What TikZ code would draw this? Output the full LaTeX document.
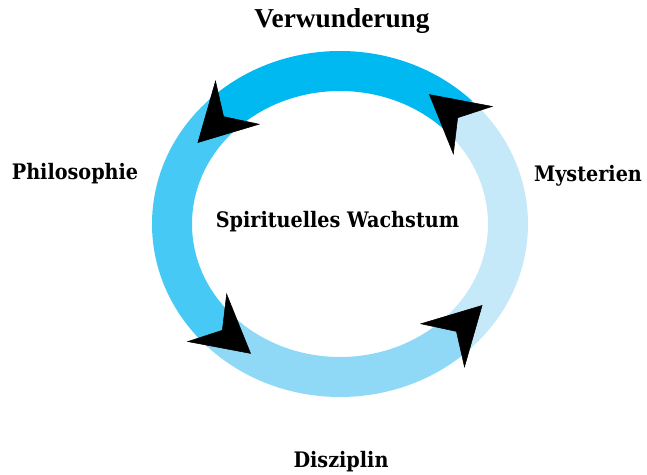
\documentclass[tikz,border=0pt]{standalone}
\usepackage{fontspec}
\setmainfont{Liberation Serif}
\newfontfamily\stagefont[FakeStretch=0.9]{DejaVu Serif}
\usetikzlibrary{arrows.meta}
\definecolor{TopBlue}{HTML}{00B9F1}
\definecolor{LeftBlue}{HTML}{47C9F5}
\definecolor{LowBlue}{HTML}{8FD9F7}
\definecolor{PaleBlue}{HTML}{C6E9F9}
\tikzset{
 ring/.style={line width=30pt},
 turn/.style={-{Stealth[length=43pt,width=47pt,inset=15pt]}, shorten <=17pt, line width=0.4pt, draw=black, fill=black},
 stage/.style={anchor=base, inner sep=0pt, font=\stagefont\bfseries\fontsize{16}{18}\selectfont},
 headline/.style={anchor=base, inner sep=0pt, font=\bfseries\fontsize{20.5}{24}\selectfont}
}
\begin{document}
\begin{tikzpicture}[x=0.75pt,y=0.75pt]
\useasboundingbox (0,0) rectangle (647,475);
\begin{scope}[shift={(340,251)}]
% the four parts of the ring
\draw[ring, draw=TopBlue] (45:168 and 153) arc[start angle=45, end angle=135, x radius=168, y radius=153];
\draw[ring, draw=LeftBlue] (135:168 and 153) arc[start angle=135, end angle=225, x radius=168, y radius=153];
\draw[ring, draw=LowBlue] (225:168 and 153) arc[start angle=225, end angle=315, x radius=168, y radius=153];
\draw[ring, draw=PaleBlue] (315:168 and 153) arc[start angle=315, end angle=405, x radius=168, y radius=153];
% arrow heads
\foreach \b in {45,135,225,315}{\path (\b-7:168 and 153) coordinate (back\b) (\b+13:168 and 153) coordinate (tip\b); \draw[turn] (back\b) -- (tip\b);}
\end{scope}
\node[headline] (wonder) at (342,447) {Verwunderung};
\node[stage] (philo) at (75,295) {Philosophie};
\node[stage] (myst) at (588,293) {Mysterien};
\node[stage] (diszi) at (341,7) {Disziplin};
\node[stage] (growth) at (337.5,247) {Spirituelles Wachstum};
\end{tikzpicture}
\end{document}
